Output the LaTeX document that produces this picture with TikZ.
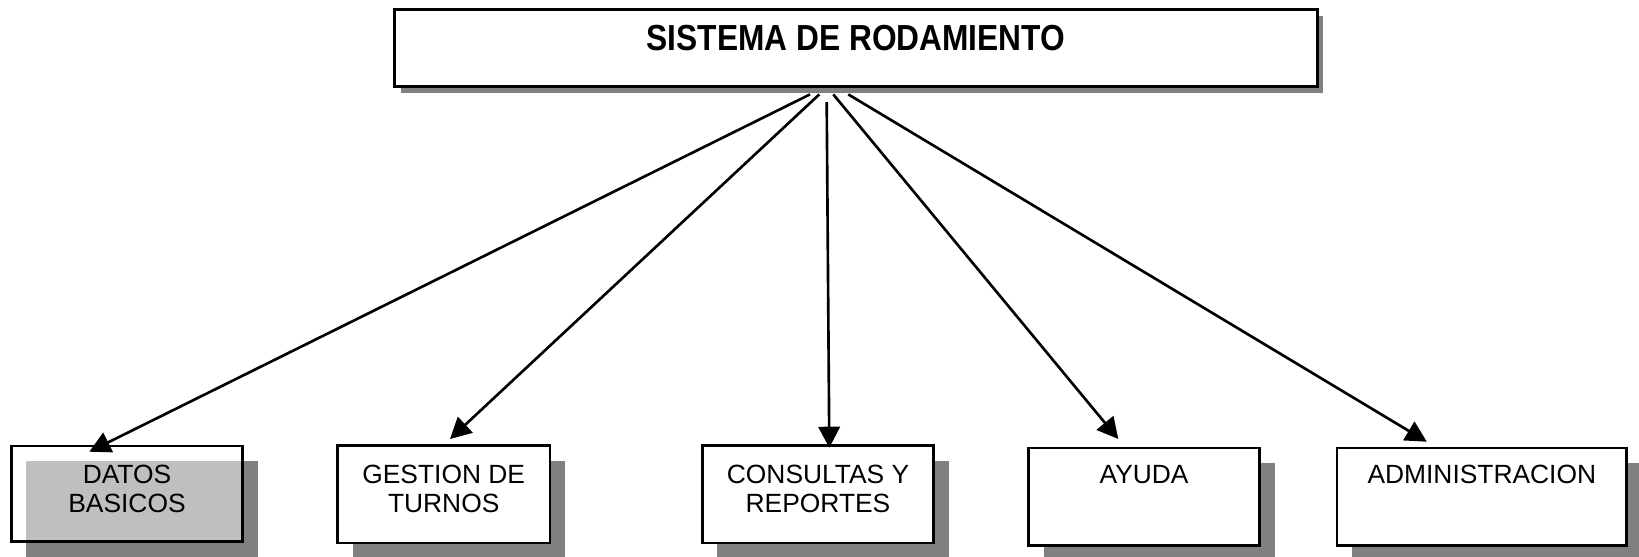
\documentclass[tikz,border=0pt]{standalone}
\usepackage{fontspec}
\setmainfont{Liberation Sans}
\newfontfamily\titlefont[FakeStretch=0.875]{Liberation Sans}
\usepackage{tikz}
\usetikzlibrary{arrows.meta, shadows}
\usepackage{xcolor}
\definecolor{shadowgray}{HTML}{808080}

\newcommand{\boxlabel}[4]{\parbox[c][#2][t]{#1}{\centering\vspace*{#3}#4}}

\begin{document}
\begin{tikzpicture}[x=0.01cm, y=-0.01cm,
    titlebox/.style={draw, line width=0.75pt, fill=white, inner sep=0pt,
      drop shadow={shadow xshift=0.06cm, shadow yshift=-0.06cm, fill=shadowgray, opacity=1},
      font=\titlefont\bfseries\fontsize{10.3pt}{12pt}\selectfont},
    module/.style={draw, line width=0.75pt, fill=white, inner sep=0pt,
      drop shadow={shadow xshift=0.15cm, shadow yshift=-0.15cm, fill=shadowgray, opacity=1},
      font=\fontsize{7.5pt}{8.34pt}\selectfont},
    link/.style={line width=0.75pt, -{Triangle[length=0.21cm, width=0.215cm]}}]
    \useasboundingbox (0,0) rectangle (1639,556);
    \node[titlebox, anchor=north] (title) at (856,8.4) {\boxlabel{9.22cm}{0.77cm}{0.15cm}{SISTEMA DE RODAMIENTO}};
    \node[module, anchor=north, fill opacity=0.5, text opacity=1] (datos) at (127,444.7) {\boxlabel{2.31cm}{0.957cm}{0.19cm}{DATOS\\BASICOS}};
    \node[module, anchor=north] (gestion) at (443.7,444.3) {\boxlabel{2.122cm}{0.972cm}{0.19cm}{GESTION DE\\TURNOS}};
    \node[module, anchor=north] (consultas) at (818,444.3) {\boxlabel{2.311cm}{0.972cm}{0.19cm}{CONSULTAS Y\\REPORTES}};
    \node[module, anchor=north] (ayuda) at (1144.1,446.7) {\boxlabel{2.31cm}{0.972cm}{0.175cm}{AYUDA}};
    \node[module, anchor=north] (admin) at (1481.8,446.7) {\boxlabel{2.895cm}{0.972cm}{0.175cm}{ADMINISTRACION}};
    \draw[link] ([shift={(-46,6.3)}]title.south) -- ([shift={(-37.7,7)}]datos.north);
    \draw[link] ([shift={(-36.7,6.3)}]title.south) -- ([shift={(6.3,-5.3)}]gestion.north);
    \draw[link] ([shift={(-29.3,14)}]title.south) -- ([shift={(11.3,3.4)}]consultas.north);
    \draw[link] ([shift={(-22.7,6.3)}]title.south) -- ([shift={(-25.8,-7.7)}]ayuda.north);
    \draw[link] ([shift={(-7.7,6.3)}]title.south) -- ([shift={(-55,-5)}]admin.north);
  \end{tikzpicture}
\end{document}
